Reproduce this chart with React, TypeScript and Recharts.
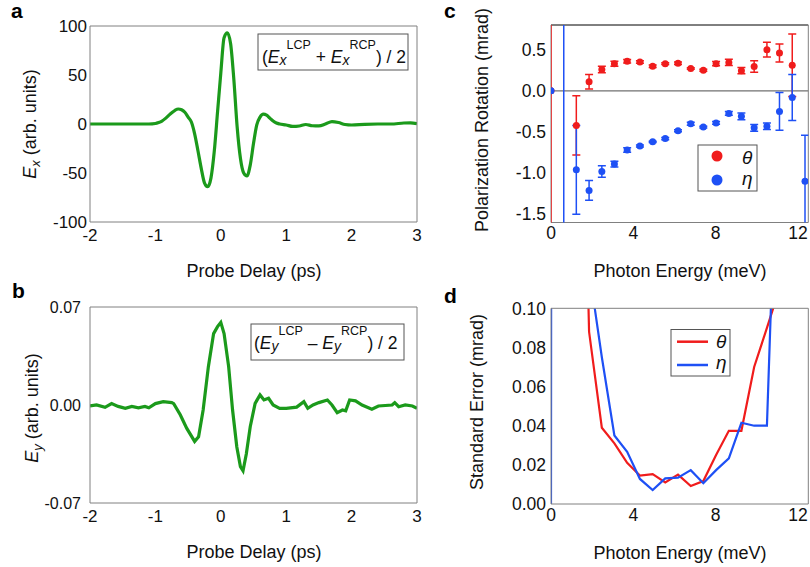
import React from 'react';
import { ComposedChart, LineChart, Line, Scatter, XAxis, YAxis, ErrorBar, ReferenceLine } from 'recharts';

// ---------- data ----------
const delayEx = [-2, -1.8, -1.6, -1.4, -1.2, -1.1, -1.0, -0.95, -0.9, -0.85, -0.8, -0.75, -0.7, -0.65, -0.6, -0.55, -0.5, -0.45, -0.4, -0.35, -0.3, -0.25, -0.2, -0.15, -0.1, -0.05, 0, 0.05, 0.1, 0.15, 0.2, 0.25, 0.3, 0.35, 0.4, 0.45, 0.5, 0.55, 0.6, 0.65, 0.7, 0.75, 0.8, 0.85, 0.9, 1.0, 1.1, 1.2, 1.3, 1.4, 1.5, 1.6, 1.7, 1.8, 1.9, 2.0, 2.2, 2.4, 2.6, 2.8, 2.9, 3.0];
const ex = [0, 0, 0, 0, 0, 0, 0.5, 1.5, 3, 5.5, 8.5, 11.5, 14, 15.3, 14.5, 12, 7, 2, -10, -27, -45, -60, -64, -55, -28, 12, 52, 88, 93, 82, 45, -3, -35, -50, -53, -42, -20, -1, 7, 10, 9, 6, 3, 1, 0, -1, -2.5, -2, -0.5, -1.8, -2, 0, 2.5, 1.5, -0.5, -1, -0.3, 0, 0, 1, 1.2, 0.3];

const delayEy = [-2, -1.9, -1.77, -1.67, -1.57, -1.46, -1.36, -1.26, -1.16, -1.1, -1.0, -0.88, -0.75, -0.72, -0.62, -0.52, -0.4, -0.34, -0.27, -0.19, -0.11, -0.05, 0, 0.05, 0.12, 0.18, 0.245, 0.3, 0.34, 0.39, 0.45, 0.525, 0.6, 0.66, 0.73, 0.8, 0.9, 1.0, 1.16, 1.27, 1.33, 1.41, 1.5, 1.63, 1.7, 1.78, 1.86, 1.91, 1.97, 2.06, 2.16, 2.31, 2.41, 2.62, 2.66, 2.72, 2.82, 2.93, 3.0];
const ey = [-0.0007, 0, -0.0017, 0.001, -0.001, -0.0024, -0.001, -0.002, -0.001, -0.002, 0.001, 0.0024, 0.0017, 0.001, -0.007, -0.0167, -0.026, -0.0227, -0.0036, 0.0274, 0.051, 0.056, 0.059, 0.051, 0.0274, -0.0036, -0.03, -0.044, -0.047, -0.035, -0.0155, 0.0012, 0.0072, 0.0036, 0.0048, 0, -0.0024, -0.0024, -0.0015, 0.0024, -0.0024, 0, 0.0017, 0.0036, 0, -0.0055, -0.0036, -0.0042, 0.0036, 0.003, 0, -0.003, -0.0007, 0, 0.0017, -0.0012, 0, -0.0007, -0.0024];

const energy = [0, 0.62, 1.23, 1.85, 2.47, 3.08, 3.7, 4.32, 4.94, 5.55, 6.17, 6.79, 7.4, 8.02, 8.64, 9.25, 9.87, 10.49, 11.1, 11.72, 12.34];
const theta = [0, 0, -0.42, 0.11, 0.26, 0.33, 0.36, 0.35, 0.3, 0.33, 0.335, 0.27, 0.25, 0.33, 0.345, 0.245, 0.295, 0.5, 0.46, 0.31, 1.2];
const thetaErr = [10, 0, 0.36, 0.088, 0.039, 0.031, 0.021, 0.0145, 0.0153, 0.011, 0.015, 0.0092, 0.0117, 0.025, 0.0374, 0.0374, 0.07, 0.09, 0.11, 0.38, 0.35];
const eta = [0, 3, -0.96, -1.21, -0.98, -0.89, -0.72, -0.67, -0.62, -0.58, -0.485, -0.4, -0.44, -0.39, -0.275, -0.31, -0.45, -0.43, -0.25, -0.08, -1.1];
const etaErr = [0, 10, 0.54, 0.12, 0.07, 0.035, 0.027, 0.013, 0.007, 0.013, 0.0135, 0.017, 0.011, 0.017, 0.023, 0.0415, 0.04, 0.04, 0.23, 0.28, 0.56];

const thetaSE = [null, null, 0.36, 0.088, 0.039, 0.031, 0.021, 0.0145, 0.0153, 0.011, 0.015, 0.0092, 0.0117, 0.025, 0.0374, 0.0374, 0.07, 0.09, 0.11, 0.38, 0.5];
const etaSE = [0, 10, 0.54, 0.12, 0.075, 0.035, 0.0267, 0.0128, 0.0071, 0.0131, 0.0135, 0.0173, 0.0106, 0.0173, 0.0233, 0.0415, 0.04, 0.04, 0.23, 0.28, 0.56];

const delayTicks = [-2, -1, 0, 1, 2, 3];
const exTicks = [-100, -50, 0, 50, 100];
const eyTicks = [-0.07, -0.06, -0.05, -0.04, -0.03, -0.02, -0.01, 0, 0.01, 0.02, 0.03, 0.04, 0.05, 0.06, 0.07];
const eyLabelled = [-0.07, 0, 0.07];
const energyTicks = [0, 2, 4, 6, 8, 10, 12];
const energyLabelled = [0, 4, 8, 12];
const rotTicks = [-1.5, -1.0, -0.5, 0, 0.5];
const seTicks = [0, 0.02, 0.04, 0.06, 0.08, 0.1];

const exData = delayEx.map((t, i) => ({ t, v: ex[i] }));
const eyData = delayEy.map((t, i) => ({ t, v: ey[i] }));
const rotData = energy.map((e, i) => ({ e, theta: theta[i], thetaErr: thetaErr[i], eta: eta[i], etaErr: etaErr[i] }));
const seData = energy.map((e, i) => ({ e, theta: thetaSE[i], eta: etaSE[i] }));

// ---------- style ----------
const FONT = '"Liberation Sans", Arial, Helvetica, sans-serif';
const AXIS = '#808080';
const TXT = '#111111';
const GREEN = '#1b9a1b';
const RED = '#f01c1c';
const BLUE = '#1e50f5';

type AxOpts = {
  xKey: string;
  xDomain: [number, number];
  xTicks: number[];
  xFmt: (v: number) => string;
  xMargin: number;
  xHeight: number;
  yDomain: [number, number];
  yTicks: number[];
  yFmt: (v: number) => string;
  yMargin: number;
  yWidth: number;
  fontSize: number;
  yFontSize?: number;
  topColor?: string;
};

// Igor-style frame: label axes (no tick lines) + four mirrored axes drawing the box and inward ticks
function axes(o: AxOpts) {
  const tl = 6;
  const line = { stroke: AXIS, strokeWidth: 1 };
  return [
    <XAxis key="xb" xAxisId="b" type="number" dataKey={o.xKey} domain={o.xDomain} ticks={o.xTicks} interval={0}
      allowDataOverflow tickFormatter={o.xFmt} tickSize={0} tickMargin={o.xMargin} height={o.xHeight}
      axisLine={false} tickLine={false}
      tick={{ fontSize: o.fontSize, fill: TXT, fontFamily: FONT }} />,
    <YAxis key="yl" yAxisId="l" type="number" domain={o.yDomain} ticks={o.yTicks} interval={0}
      allowDataOverflow tickFormatter={o.yFmt} tickSize={0} tickMargin={o.yMargin} width={o.yWidth}
      axisLine={false} tickLine={false}
      tick={{ fontSize: o.yFontSize || o.fontSize, fill: TXT, fontFamily: FONT }} />,
    <XAxis key="xbm" xAxisId="bm" orientation="bottom" mirror type="number" dataKey={o.xKey} domain={o.xDomain}
      ticks={o.xTicks} interval={0} allowDataOverflow tick={false} tickSize={tl} height={20}
      axisLine={line} tickLine={line} />,
    <XAxis key="xtm" xAxisId="tm" orientation="top" mirror type="number" dataKey={o.xKey} domain={o.xDomain}
      ticks={o.xTicks} interval={0} allowDataOverflow tick={false} tickSize={tl} height={20}
      axisLine={{ stroke: o.topColor || AXIS, strokeWidth: 1 }} tickLine={line} />,
    <YAxis key="ylm" yAxisId="lm" orientation="left" mirror type="number" domain={o.yDomain} ticks={o.yTicks}
      interval={0} allowDataOverflow tick={false} tickSize={tl} width={20}
      axisLine={line} tickLine={line} />,
    <YAxis key="yrm" yAxisId="rm" orientation="right" mirror type="number" domain={o.yDomain} ticks={o.yTicks}
      interval={0} allowDataOverflow tick={false} tickSize={tl} width={20}
      axisLine={line} tickLine={line} />,
  ];
}

const intFmt = (v: number) => String(v);
const eyFmt = (v: number) => (eyLabelled.some((l) => Math.abs(l - v) < 1e-9) ? (Math.abs(v) < 1e-9 ? '0.00' : v.toFixed(2)) : '');
const energyFmt = (v: number) => (energyLabelled.includes(v) ? String(v) : '');
const rotFmt = (v: number) => (Math.abs(v) < 1e-9 ? '0.0' : v.toFixed(1));
const seFmt = (v: number) => v.toFixed(2);

const thetaShape = (p: any) =>
  p.payload && p.payload.thetaErr === 0 ? <g /> : <circle cx={p.cx} cy={p.cy} r={3.5} fill={RED} />;
const etaShape = (p: any) => <circle cx={p.cx} cy={p.cy} r={3.5} fill={BLUE} />;

const abs = (left: number, top: number): React.CSSProperties => ({ position: 'absolute', left, top });

export default function App() {
  const titleStyle = { fontFamily: FONT, fontSize: 18, fill: TXT } as const;
  const cAxes: AxOpts = {
    xKey: 'e', xDomain: [0, 12.5], xTicks: energyTicks, xFmt: energyFmt, xMargin: 4, xHeight: 28,
    yDomain: [-1.6, 0.8], yTicks: rotTicks, yFmt: rotFmt, yMargin: 5, yWidth: 111, fontSize: 17.5, topColor: '#000',
  };
  return (
    <div style={{ position: 'absolute', left: 0, top: 0, width: 810, height: 567, background: '#fff', overflow: 'hidden' }}>
      {/* panel a */}
      <div style={abs(0, 0)}>
        <LineChart width={440} height={250} data={exData} margin={{ top: 26, right: 23, bottom: 0, left: 0 }}>
          {axes({
            xKey: 't', xDomain: [-2, 3], xTicks: delayTicks, xFmt: intFmt, xMargin: 7, xHeight: 28,
            yDomain: [-100, 100], yTicks: exTicks, yFmt: intFmt, yMargin: 3, yWidth: 90, fontSize: 17,
          })}
          <Line xAxisId="b" yAxisId="l" dataKey="v" type="monotone" stroke={GREEN} strokeWidth={3.2} dot={false} isAnimationActive={false} />
        </LineChart>
      </div>
      {/* panel b */}
      <div style={abs(0, 280)}>
        <LineChart width={440} height={251} data={eyData} margin={{ top: 27, right: 23, bottom: 0, left: 0 }}>
          {axes({
            xKey: 't', xDomain: [-2, 3], xTicks: delayTicks, xFmt: intFmt, xMargin: 7, xHeight: 28,
            yDomain: [-0.07, 0.07], yTicks: eyTicks, yFmt: eyFmt, yMargin: 9, yWidth: 90, fontSize: 17, yFontSize: 16,
          })}
          <Line xAxisId="b" yAxisId="l" dataKey="v" type="linear" stroke={GREEN} strokeWidth={3.2} dot={false} isAnimationActive={false} />
        </LineChart>
      </div>
      {/* panel c: frame, axes and zero line */}
      <div style={abs(440, 0)}>
        <ComposedChart width={370} height={250.5} data={rotData} margin={{ top: 25, right: 1.7, bottom: 0, left: 0 }}>
          {axes(cAxes)}
          <ReferenceLine xAxisId="b" yAxisId="l" y={0} stroke="#707070" strokeWidth={1.3} />
        </ComposedChart>
      </div>
      {/* panel c: points and error bars, clipped to the plot area */}
      <div style={{ ...abs(440, 0), clipPath: 'inset(25px 1.7px 28px 111px)' }}>
        <ComposedChart width={370} height={250.5} data={rotData} margin={{ top: 25, right: 1.7, bottom: 0, left: 0 }}>
          <XAxis xAxisId="b" type="number" dataKey="e" domain={[0, 12.5]} allowDataOverflow height={28} axisLine={false} tickLine={false} tick={false} />
          <YAxis yAxisId="l" type="number" domain={[-1.6, 0.8]} allowDataOverflow width={111} axisLine={false} tickLine={false} tick={false} />
          <Scatter xAxisId="b" yAxisId="l" data={rotData} dataKey="theta" fill={RED} shape={thetaShape} isAnimationActive={false}>
            <ErrorBar dataKey="thetaErr" direction="y" width={4} stroke={RED} strokeWidth={1.5} isAnimationActive={false} />
          </Scatter>
          <Scatter xAxisId="b" yAxisId="l" data={rotData} dataKey="eta" fill={BLUE} shape={etaShape} isAnimationActive={false}>
            <ErrorBar dataKey="etaErr" direction="y" width={4} stroke={BLUE} strokeWidth={1.5} isAnimationActive={false} />
          </Scatter>
        </ComposedChart>
      </div>
      {/* panel d */}
      <div style={abs(440, 280)}>
        <LineChart width={370} height={252} data={seData} margin={{ top: 28.3, right: 1.7, bottom: 0, left: 0 }}>
          {axes({
            xKey: 'e', xDomain: [0, 12.5], xTicks: energyTicks, xFmt: energyFmt, xMargin: 4.5, xHeight: 28,
            yDomain: [0, 0.1], yTicks: seTicks, yFmt: seFmt, yMargin: 5, yWidth: 111, fontSize: 17.5,
          })}
          <Line xAxisId="b" yAxisId="l" dataKey="theta" type="linear" stroke={RED} strokeWidth={2.2} dot={false} connectNulls={false} isAnimationActive={false} />
          <Line xAxisId="b" yAxisId="l" dataKey="eta" type="linear" stroke={BLUE} strokeWidth={2.2} dot={false} connectNulls={false} isAnimationActive={false} />
        </LineChart>
      </div>

      {/* annotations */}
      <svg width={810} height={567} style={{ position: 'absolute', left: 0, top: 0, pointerEvents: 'none' }}>
        <g fontFamily={FONT} fontWeight="bold" fontSize={21} fill="#000">
          <text x={11} y={18}>a</text>
          <text x={12} y={298}>b</text>
          <text x={444} y={18}>c</text>
          <text x={444} y={303}>d</text>
        </g>
        <text x={254} y={277} textAnchor="middle" {...titleStyle}>Probe Delay (ps)</text>
        <text x={254} y={558} textAnchor="middle" {...titleStyle}>Probe Delay (ps)</text>
        <text x={680} y={277} textAnchor="middle" {...titleStyle}>Photon Energy (meV)</text>
        <text x={680} y={559} textAnchor="middle" {...titleStyle}>Photon Energy (meV)</text>
        <text transform="translate(36,124) rotate(-90)" textAnchor="middle" {...titleStyle}>
          <tspan fontStyle="italic">E</tspan><tspan fontStyle="italic" fontSize={13} dy={4}>x</tspan><tspan dy={-4}> (arb. units)</tspan>
        </text>
        <text transform="translate(38,408) rotate(-90)" textAnchor="middle" {...titleStyle}>
          <tspan fontStyle="italic">E</tspan><tspan fontStyle="italic" fontSize={13} dy={4}>y</tspan><tspan dy={-4}> (arb. units)</tspan>
        </text>
        <text transform="translate(488,120) rotate(-90)" textAnchor="middle" {...titleStyle}>Polarization Rotation (mrad)</text>
        <text transform="translate(483,402) rotate(-90)" textAnchor="middle" {...titleStyle}>Standard Error (mrad)</text>

        {/* legend a */}
        <rect x={258} y={34} width={150} height={36} fill="#fff" stroke="#555" strokeWidth={1} />
        <text x={262} y={63} fontFamily={FONT} fontSize={17.5} fill={TXT}>
          <tspan>(</tspan><tspan fontStyle="italic">E</tspan>
          <tspan fontStyle="italic" fontSize={14} y={65}>x</tspan>
          <tspan fontSize={12.5} y={49}>LCP</tspan>
          <tspan y={63}> + </tspan><tspan fontStyle="italic">E</tspan>
          <tspan fontStyle="italic" fontSize={14} y={65}>x</tspan>
          <tspan fontSize={12.5} y={49}>RCP</tspan>
          <tspan y={63}>) / 2</tspan>
        </text>
        {/* legend b */}
        <rect x={251} y={324} width={153} height={36} fill="#fff" stroke="#555" strokeWidth={1} />
        <text x={254} y={349} fontFamily={FONT} fontSize={17.5} fill={TXT}>
          <tspan>(</tspan><tspan fontStyle="italic">E</tspan>
          <tspan fontStyle="italic" fontSize={14} y={351}>y</tspan>
          <tspan fontSize={12.5} y={335}>LCP</tspan>
          <tspan y={349}> – </tspan><tspan fontStyle="italic">E</tspan>
          <tspan fontStyle="italic" fontSize={14} y={351}>y</tspan>
          <tspan fontSize={12.5} y={335}>RCP</tspan>
          <tspan y={349}>) / 2</tspan>
        </text>
        {/* legend c */}
        <rect x={698} y={145} width={59} height={46} fill="#fff" stroke="#555" strokeWidth={1} />
        <circle cx={717} cy={156} r={5.5} fill={RED} />
        <circle cx={717} cy={180} r={5.5} fill={BLUE} />
        <text x={742} y={164} fontFamily={FONT} fontSize={19} fontStyle="italic" fill={TXT}>θ</text>
        <text x={742} y={185} fontFamily={FONT} fontSize={19} fontStyle="italic" fill={TXT}>η</text>
        {/* legend d */}
        <rect x={671} y={329.5} width={59} height={46.5} fill="#fff" stroke="#555" strokeWidth={1} />
        <line x1={677} x2={708} y1={341.7} y2={341.7} stroke={RED} strokeWidth={2.5} />
        <line x1={677} x2={708} y1={365} y2={365} stroke={BLUE} strokeWidth={2.5} />
        <text x={716} y={348} fontFamily={FONT} fontSize={19} fontStyle="italic" fill={TXT}>θ</text>
        <text x={716} y={369} fontFamily={FONT} fontSize={19} fontStyle="italic" fill={TXT}>η</text>
      </svg>
    </div>
  );
}
